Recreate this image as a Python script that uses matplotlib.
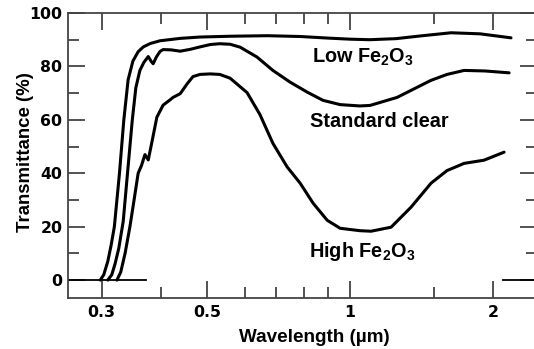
import matplotlib
matplotlib.use("Agg")
import matplotlib.pyplot as plt
from matplotlib.ticker import FixedLocator, NullFormatter

plt.rcParams['font.family'] = ['Liberation Sans', 'DejaVu Sans']
plt.rcParams['font.weight'] = 'bold'
plt.rcParams['mathtext.fontset'] = 'custom'
plt.rcParams['mathtext.rm'] = 'Liberation Sans:bold'
plt.rcParams['mathtext.bf'] = 'Liberation Sans:bold'

# transmittance curves, wavelength in um, transmittance in %
low_wl = [0.298, 0.303, 0.309, 0.314, 0.319, 0.327, 0.334, 0.341, 0.349, 0.358, 0.367,
          0.380, 0.398, 0.439, 0.483, 0.56, 0.669, 0.785, 0.90, 1.0, 1.10, 1.25, 1.404,
          1.632, 1.878, 2.182]
low_T = [0, 2, 7, 13, 20, 40, 60, 75, 82, 85.5, 87.3,
         88.6, 89.6, 90.5, 91, 91.3, 91.5, 91.2, 90.6, 90.2, 90, 90.4, 91.4,
         92.6, 92.2, 90.7]

std_wl = [0.309, 0.315, 0.320, 0.326, 0.333, 0.340, 0.348, 0.354, 0.361, 0.368, 0.376,
          0.381, 0.385, 0.391, 0.398, 0.404, 0.420, 0.439, 0.461, 0.483, 0.508, 0.532,
          0.559, 0.587, 0.637, 0.688, 0.748, 0.812, 0.877, 0.953, 1.049, 1.102, 1.256,
          1.481, 1.60, 1.738, 1.923, 2.162]
std_T = [0, 2, 6, 12, 22, 40, 60, 72, 78.5, 81.5, 83.7,
         82, 81, 83.5, 85.6, 86.3, 86.2, 85.7, 86.4, 87.3, 88.2, 88.5,
         88.3, 87.2, 83.5, 78.5, 74.1, 70.4, 67.3, 65.7, 65.2, 65.4, 68.4,
         74.8, 77, 78.5, 78.3, 77.6]

high_wl = [0.323, 0.329, 0.336, 0.344, 0.351, 0.358, 0.364, 0.370, 0.376, 0.383, 0.392,
           0.404, 0.418, 0.424, 0.439, 0.454, 0.467, 0.483, 0.5075, 0.532, 0.559, 0.607,
           0.646, 0.688, 0.737, 0.785, 0.836, 0.895, 0.953, 1.049, 1.107, 1.22, 1.344,
           1.481, 1.60, 1.738, 1.915, 2.11]
high_T = [0, 3, 10, 20, 30, 40, 43, 47, 45, 52, 61,
          65.5, 67.5, 68.4, 69.8, 73.5, 76.2, 77, 77.2, 77, 75.6, 70.2,
          62, 51.2, 42.4, 36.3, 28.8, 22.4, 19.4, 18.5, 18.3, 19.8, 27.3,
          36.3, 41, 43.7, 44.9, 47.9]

# zero baseline pieces
base_left = [0.2548, 0.372]
base_right = [2.10, 2.5]

xmajor = [0.3, 0.5, 1, 2]
xmajor_labels = ['0.3', '0.5', '1', '2']
xminor = [0.4, 0.6, 0.7, 0.8, 0.9, 1.5]
ymajor = [0, 20, 40, 60, 80, 100]
yminor = [10, 30, 50, 70, 90]

fig = plt.figure(figsize=(5.34, 3.49), dpi=100)
ax = fig.add_axes([68/534, 51/349, 469/534, 285/349])

for wl, T in [(low_wl, low_T), (std_wl, std_T), (high_wl, high_T)]:
    ax.plot(wl, T, color='black', lw=2.2, solid_joinstyle='round', solid_capstyle='round')
ax.plot(base_left, [0, 0], color='black', lw=1.3)
ax.plot(base_right, [0, 0], color='black', lw=1.3)

ax.set_xscale('log')
ax.set_xlim(0.2548, 2.475)
ax.set_ylim(-6.7, 100)

ax.xaxis.set_major_locator(FixedLocator(xmajor))
ax.set_xticklabels(xmajor_labels)
ax.xaxis.set_minor_locator(FixedLocator(xminor))
ax.xaxis.set_minor_formatter(NullFormatter())
ax.yaxis.set_major_locator(FixedLocator(ymajor))
ax.yaxis.set_minor_locator(FixedLocator(yminor))

for s in ax.spines.values():
    s.set_color('#444444')
    s.set_linewidth(1.3)
ax.tick_params(which='both', direction='in', top=True, right=True, color='#444444',
               width=1.3)
ax.tick_params(which='major', length=12)
ax.tick_params(which='minor', length=8)
ax.tick_params(axis='x', pad=5)
ax.tick_params(axis='y', pad=4)
for lab in ax.get_xticklabels() + ax.get_yticklabels():
    lab.set_family('DejaVu Sans')
    lab.set_fontweight('bold')
    lab.set_fontsize(11.3)

ax.text(0.832, 81.5, 'Low Fe$_\\mathbf{2}$O$_\\mathbf{3}$', fontsize=14.3, fontweight='bold')
ax.text(0.824, 57.2, 'Standard clear', fontsize=14.3, fontweight='bold')
ax.text(0.82, 8.6, 'High Fe$_\\mathbf{2}$O$_\\mathbf{3}$', fontsize=14.3, fontweight='bold')

fig.text(314/534, 1 - 338/349, 'Wavelength (µm)', ha='center', va='center',
         fontsize=13.6, fontweight='bold')
fig.text(26/534, 1 - 152/349, 'Transmittance (%)', ha='center', va='center',
         rotation=90, fontsize=13.4, fontweight='bold')

fig.savefig('out.png', dpi=100)
